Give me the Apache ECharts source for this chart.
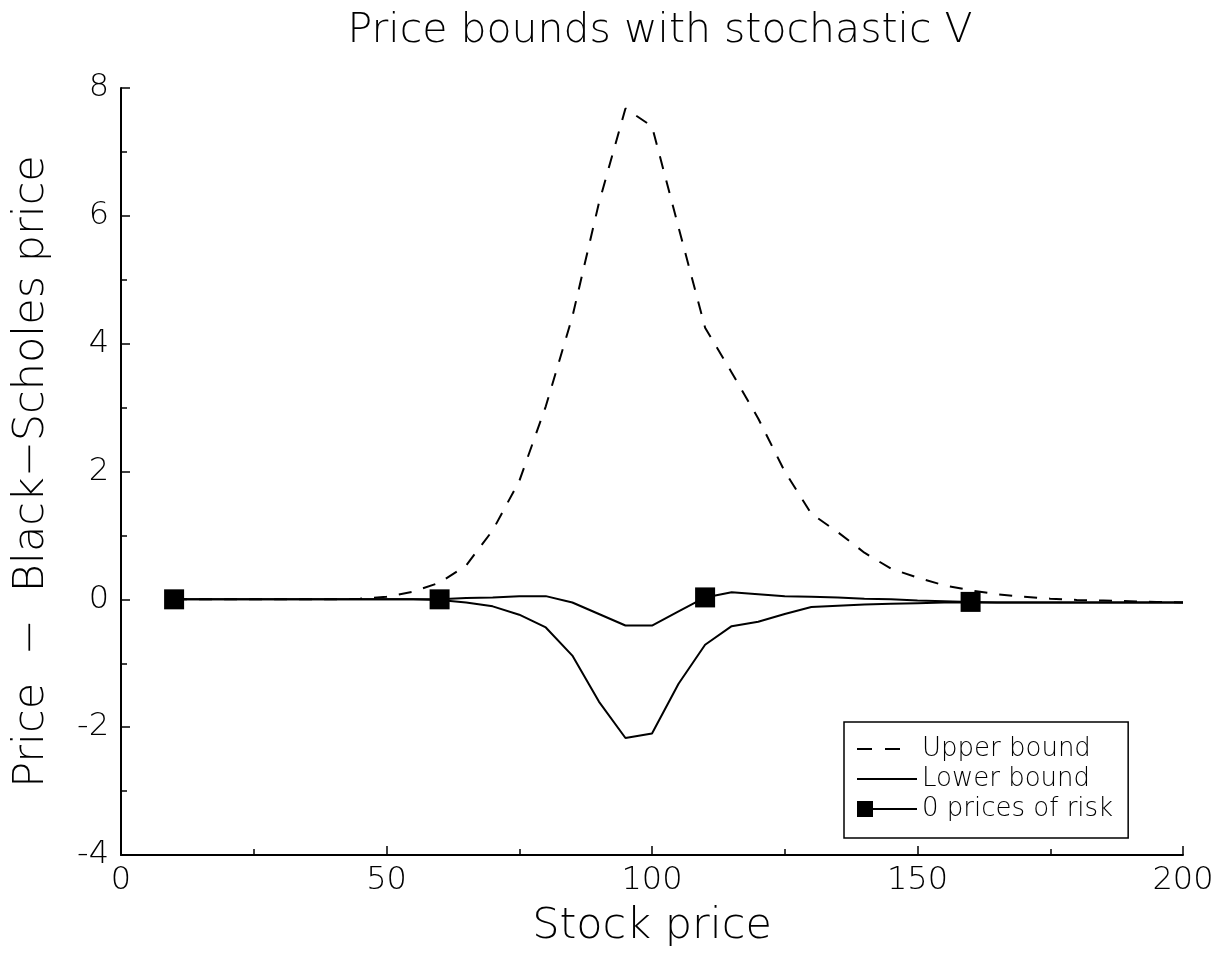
<!DOCTYPE html>
<html>
<head>
<meta charset="utf-8">
<script src="https://cdn.jsdelivr.net/npm/echarts@6/dist/echarts.min.js"></script>
<style>
  html, body { margin: 0; padding: 0; background: #fff; }
  #chart { width: 1221px; height: 959px; }
</style>
</head>
<body>
<div id="chart"></div>
<script>
// Stock price grid (x values shared by all three curves)
const stockPrices = [10, 15, 20, 25, 30, 35, 40, 45, 50, 55,
  60, 65, 70, 75, 80, 85, 90, 95, 100, 105,
  110, 115, 120, 125, 130, 135, 140, 145, 150, 155,
  160, 165, 170, 175, 180, 185, 190, 195, 200];

// Price minus Black-Scholes price
const upperBound = [0, 0, 0, 0, 0, 0, 0, 0.01, 0.04, 0.12,
  0.26, 0.53, 1.08, 1.85, 3.02, 4.42, 6.2, 7.68, 7.4, 5.82,
  4.25, 3.55, 2.83, 2.0, 1.34, 1.05, 0.73, 0.48, 0.34, 0.22,
  0.14, 0.08, 0.04, 0.01, -0.01, -0.02, -0.03, -0.04, -0.05];

const lowerBound = [0, 0, 0, 0, 0, 0, 0, 0, 0, 0,
  -0.01, -0.05, -0.11, -0.24, -0.44, -0.88, -1.6, -2.17, -2.1, -1.32,
  -0.71, -0.42, -0.35, -0.23, -0.12, -0.1, -0.08, -0.07, -0.06, -0.05,
  -0.05, -0.05, -0.05, -0.05, -0.05, -0.05, -0.05, -0.05, -0.05];

const zeroRiskPrices = [0, 0, 0, 0, 0, 0, 0, 0, 0, 0,
  0, 0.02, 0.03, 0.05, 0.05, -0.05, -0.23, -0.41, -0.41, -0.19,
  0.03, 0.11, 0.08, 0.05, 0.04, 0.03, 0.01, 0, -0.02, -0.03,
  -0.04, -0.05, -0.05, -0.05, -0.05, -0.05, -0.05, -0.05, -0.05];

// A marker is drawn on every tenth point of the zero-price-of-risk curve
const markerEvery = 10;

const seriesNames = ['Upper bound', 'Lower bound', '0 prices of risk'];
const xTitle = 'Stock price';
const yTitle = 'Price  \u2212  Black\u2212Scholes price';
const chartTitle = 'Price bounds with stochastic V';

const pairs = (ys) => stockPrices.map((x, i) => [x, ys[i]]);

const FONT = 'DejaVu Sans';
const INK = '#000';

// legend glyphs (60 x 16 boxes)
const anchor = 'M0,0h0.01v0.01h-0.01z M59.99,15.99h0.01v0.01h-0.01z ';
const iconDashed = 'path://' + anchor + 'M0,7h15v2h-15z M28,7h15v2h-15z';
const iconSolid = 'path://' + anchor + 'M0,7h60v2h-60z';
const iconMarker = 'path://' + anchor + 'M0,0h16v16h-16z M16,7h44v2h-44z';

const chart = echarts.init(document.getElementById('chart'), null, { renderer: 'canvas' });

chart.setOption({
  backgroundColor: '#fff',
  animation: false,
  title: {
    text: chartTitle,
    left: 655,
    top: 6,
    textAlign: 'center',
    textStyle: { fontFamily: FONT, fontWeight: 200, fontSize: 41, color: INK }
  },
  grid: { left: 121, right: 38, top: 88, bottom: 104, containLabel: false },
  legend: {
    orient: 'vertical',
    left: 844,
    top: 722,
    padding: [14, 15, 16, 13],
    itemGap: 4,
    itemWidth: 60,
    itemHeight: 16,
    symbolKeepAspect: true,
    borderColor: INK,
    borderWidth: 1.5,
    borderRadius: 0,
    backgroundColor: '#fff',
    selectedMode: false,
    textStyle: { fontFamily: FONT, fontWeight: 200, fontSize: 26, color: INK },
    itemStyle: { borderWidth: 0 },
    data: [
      { name: seriesNames[0], icon: iconDashed },
      { name: seriesNames[1], icon: iconSolid },
      { name: seriesNames[2], icon: iconMarker }
    ]
  },
  xAxis: {
    type: 'value',
    min: 0,
    max: 200,
    interval: 50,
    name: xTitle,
    nameLocation: 'middle',
    nameGap: 50,
    nameTextStyle: { fontFamily: FONT, fontWeight: 200, fontSize: 43, color: INK, verticalAlign: 'top' },
    axisLine: { onZero: false, lineStyle: { color: INK, width: 2 } },
    axisTick: { inside: true, length: 9, lineStyle: { color: INK, width: 1.5 } },
    minorTick: { show: true, splitNumber: 2, length: 6, lineStyle: { color: INK, width: 1.5 } },
    axisLabel: { fontFamily: FONT, fontWeight: 200, fontSize: 32, color: INK, margin: 10 },
    splitLine: { show: false }
  },
  yAxis: {
    type: 'value',
    min: -4,
    max: 8,
    interval: 2,
    name: yTitle,
    nameLocation: 'middle',
    nameGap: 68,
    nameRotate: 90,
    nameTextStyle: { fontFamily: FONT, fontWeight: 200, fontSize: 43, color: INK },
    axisLine: { onZero: false, lineStyle: { color: INK, width: 2 } },
    axisTick: { inside: true, length: 9, lineStyle: { color: INK, width: 1.5 } },
    minorTick: { show: true, splitNumber: 2, length: 6, lineStyle: { color: INK, width: 1.5 } },
    axisLabel: { fontFamily: FONT, fontWeight: 200, fontSize: 32, color: INK, margin: 12 },
    splitLine: { show: false }
  },
  series: [
    {
      name: seriesNames[0],
      type: 'line',
      data: pairs(upperBound),
      showSymbol: false,
      color: INK,
      lineStyle: { color: INK, width: 2, type: [13, 12] },
      z: 2
    },
    {
      name: seriesNames[1],
      type: 'line',
      data: pairs(lowerBound),
      showSymbol: false,
      color: INK,
      lineStyle: { color: INK, width: 2 },
      z: 3
    },
    {
      name: seriesNames[2],
      type: 'line',
      data: pairs(zeroRiskPrices),
      showAllSymbol: true,
      symbol: (val, params) => (params.dataIndex % markerEvery === 0 ? 'rect' : 'none'),
      symbolSize: 20,
      color: INK,
      itemStyle: { color: INK },
      lineStyle: { color: INK, width: 2 },
      z: 4
    }
  ]
});
</script>
</body>
</html>
